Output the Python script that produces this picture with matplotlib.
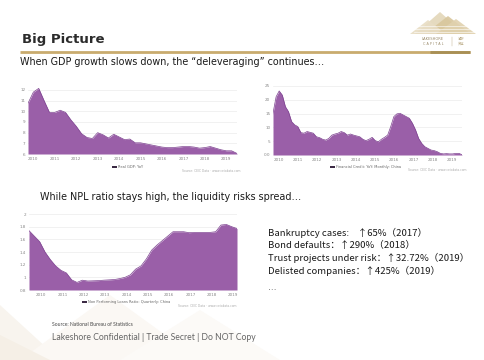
import numpy as np
import matplotlib
matplotlib.use("Agg")
import matplotlib.pyplot as plt
from matplotlib.patches import Polygon, Rectangle

# --- data ---
gdp_yoy = [10.75, 11.8, 12.15, 11.0, 9.9, 9.9, 10.1, 9.9, 9.2, 8.6,
           7.9, 7.55, 7.45, 8.0, 7.8, 7.5, 7.85, 7.6, 7.35, 7.4,
           7.05, 7.05, 6.95, 6.85, 6.75, 6.65, 6.6, 6.6, 6.65, 6.7,
           6.7, 6.65, 6.55, 6.6, 6.7, 6.55, 6.4, 6.3, 6.3, 6.05]
gdp_start = 2009.75

credit_yoy = [15.1, 21.1, 23.2, 21.7, 17.5, 15.7, 12.1, 10.9, 10.3, 8.1,
              7.9, 8.5, 8.2, 7.9, 6.6, 6.3, 5.7, 5.4, 6.0, 7.2,
              7.6, 7.9, 8.5, 8.1, 7.2, 7.6, 7.2, 6.9, 6.6, 5.7,
              5.2, 5.7, 6.4, 5.2, 4.8, 5.7, 6.4, 7.2, 10.3, 13.9,
              14.9, 15.1, 14.5, 13.9, 13.3, 11.5, 9.1, 6.0, 4.2, 3.0,
              2.4, 1.8, 1.6, 1.2, 0.6, 0.4, 0.5, 0.4, 0.4, 0.6, 0.6, 0.1]
credit_start, credit_end = 2009.69, 2019.53

npl_ratio = [1.737, 1.65, 1.563, 1.40, 1.28, 1.18, 1.11, 1.07, 0.96, 0.92,
             0.955, 0.942, 0.945, 0.948, 0.955, 0.96, 0.965, 0.98, 1.0, 1.04,
             1.13, 1.18, 1.29, 1.43, 1.51, 1.58, 1.65, 1.72, 1.72, 1.72,
             1.705, 1.71, 1.71, 1.71, 1.71, 1.72, 1.826, 1.835, 1.80, 1.77]
npl_start = 2009.42

years = list(range(2010, 2020))

risk_lines = ["Bankruptcy cases:    ↑65%（2017）",
              "Bond defaults：↑290%（2018）",
              "Trust projects under risk：↑32.72%（2019）",
              "Delisted companies：↑425%（2019）"]

PURPLE = "#9a5fa8"
EDGE = "#7d4290"
GOLD = "#c9ab6e"

W, H = 484, 360
fig = plt.figure(figsize=(W / 100, H / 100), dpi=100)
fig.patch.set_facecolor("white")


def box(x0, x1, ytop, ybot):
    return [x0 / W, 1 - ybot / H, (x1 - x0) / W, (ybot - ytop) / H]


# faint background triangles bottom-left
bg = fig.add_axes([0, 0, 1, 1], zorder=-5)
bg.set_xlim(0, W)
bg.set_ylim(H, 0)
bg.axis("off")
for pts, c in [([(0, 360), (0, 305), (60, 360)], "#f8f4ee"),
               ([(20, 360), (110, 295), (200, 360)], "#fbf8f4"),
               ([(120, 360), (200, 310), (280, 360)], "#fcfaf7"),
               ([(0, 335), (50, 360), (0, 360)], "#f5efe6")]:
    bg.add_patch(Polygon(pts, closed=True, fc=c, ec="none"))

# header
bg.text(22, 40, "Big Picture", fontsize=9.5, fontweight="heavy", color="#2b2b2b", va="center")
bg.plot([20, 470], [52, 52], color=GOLD, lw=2.0, solid_capstyle="butt")
bg.plot([430, 470], [52, 52], color="#a88f55", lw=2.0, solid_capstyle="butt")
bg.text(20, 62, "When GDP growth slows down, the \u201cdeleveraging\u201d continues\u2026",
        fontsize=6.9, color="#1a1a1a", va="center")
bg.text(40, 197, "While NPL ratio stays high, the liquidity risks spread\u2026",
        fontsize=6.9, color="#1a1a1a", va="center")

# logo
for pts, c in [([(415, 34), (440, 12), (465, 34)], "#e3d6b8"),
               ([(425, 34), (448, 16), (471, 34)], "#d8c69c"),
               ([(410, 34), (428, 20), (446, 34)], "#e8ddc4"),
               ([(436, 34), (456, 19), (476, 34)], "#e0d1ae")]:
    bg.add_patch(Polygon(pts, closed=True, fc=c, ec="none", alpha=0.9))
for yy in [26, 29, 32]:
    bg.plot([414, 474], [yy, yy], color="white", lw=0.5, alpha=0.8)
bg.text(433, 39, "LAKESHORE", fontsize=2.6, color="#9a8a6a", ha="center", va="center")
bg.text(433, 44, "C A P I T A L", fontsize=2.4, color="#9a8a6a", ha="center", va="center")
bg.plot([452, 452], [37, 46], color="#b8a780", lw=0.3)
bg.text(461, 39, "湖畔", fontsize=2.4, color="#b8a780", ha="center", va="center",
        family=["Noto Sans CJK SC", "DejaVu Sans"])
bg.text(461, 44, "资本", fontsize=2.4, color="#b8a780", ha="center", va="center",
        family=["Noto Sans CJK SC", "DejaVu Sans"])


def area_chart(rect, t, v, xlim, ylim, yticks, ylabels, legend, lx, ly, sx, sy):
    ax = fig.add_axes(rect)
    ax.fill_between(t, v, ylim[0], color=PURPLE, lw=0)
    ax.plot(t, v, color=EDGE, lw=0.5)
    ax.set_xlim(*xlim)
    ax.set_ylim(*ylim)
    ax.set_yticks(yticks)
    ax.set_yticklabels(ylabels)
    ax.set_xticks(years)
    ax.set_xticklabels([str(y) for y in years])
    ax.tick_params(labelsize=3, colors="#888888", length=0, pad=2)
    ax.grid(axis="y", color="#ececec", lw=0.5)
    ax.set_axisbelow(True)
    for s in ax.spines.values():
        s.set_visible(False)
    bg.add_patch(Rectangle((lx - 6, ly - 1.2), 4.5, 2.4, fc="#3b2a44", ec="none"))
    bg.text(lx, ly, legend, fontsize=2.6, color="#666666", va="center")
    bg.text(sx, sy, "Source: CEIC Data \u00b7 www.ceicdata.com", fontsize=2.2,
            color="#aaaaaa", va="center", ha="right")
    return ax


gdp_t = gdp_start + 0.25 * np.arange(len(gdp_yoy))
area_chart(box(28, 237, 85.7, 154), gdp_t, gdp_yoy, (gdp_t[0], gdp_t[-1]), (6, 12.4),
           range(6, 13), [str(i) for i in range(6, 13)],
           "Real GDP: YoY", 118, 167, 240, 171)

credit_t = np.linspace(credit_start, credit_end, len(credit_yoy))
area_chart(box(273, 462, 83.2, 155), credit_t, credit_yoy, (credit_t[0], credit_t[-1]), (0, 26),
           range(0, 30, 5), ["0.0", "5", "10", "15", "20", "25"],
           "Financial Credit: YoY: Monthly: China", 336, 167, 466, 170)

npl_t = npl_start + 0.25 * np.arange(len(npl_ratio))
area_chart(box(29, 237, 214, 290), npl_t, npl_ratio, (npl_t[0], npl_t[-1]), (0.8, 2.0),
           np.arange(0.8, 2.01, 0.2), ["0.8", "1", "1.2", "1.4", "1.6", "1.8", "2"],
           "Non Performing Loans Ratio: Quarterly: China", 88, 302, 237, 306)

# risk text block
for i, line in enumerate(risk_lines):
    bg.text(268, 233 + i * 12.5, line, fontsize=6.9, color="#1a1a1a", va="center",
            family=["Noto Sans CJK SC", "DejaVu Sans"])
bg.text(268, 287, "\u2026", fontsize=6, color="#555555", va="center")

# footer
bg.text(52, 325, "Source: National Bureau of Statistics", fontsize=3.6, color="#444444",
        va="center", family="Lato")
bg.text(52, 337, "Lakeshore Confidential | Trade Secret | Do NOT Copy", fontsize=6.2,
        color="#666666", va="center", family="Lato")

fig.savefig("out.png", dpi=100, facecolor="white")
